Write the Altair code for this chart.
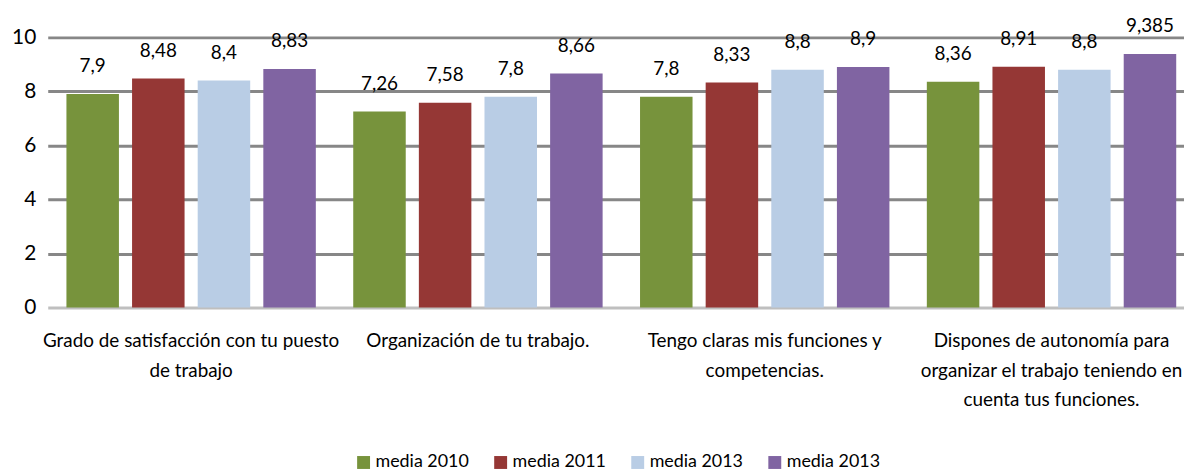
import altair as alt
import pandas as pd

categories = [
    "Grado de satisfacción con tu puesto\nde trabajo",
    "Organización de tu trabajo.",
    "Tengo claras mis funciones y\ncompetencias.",
    "Dispones de autonomía para\norganizar el trabajo teniendo en\ncuenta tus funciones.",
]
series = ["media 2010", "media 2011", "media 2013", "media 2013 "]
colors = ["#77933C", "#953735", "#B9CDE5", "#8064A2"]
media_2010 = [7.9, 7.26, 7.8, 8.36]
media_2011 = [8.48, 7.58, 8.33, 8.91]
media_2013a = [8.4, 7.8, 8.8, 8.8]
media_2013b = [8.83, 8.66, 8.9, 9.385]
y_ticks = [0, 2, 4, 6, 8, 10]

rows = []
for s, vals in zip(series, [media_2010, media_2011, media_2013a, media_2013b]):
    for c, v in zip(categories, vals):
        rows.append({"cat": c, "serie": s, "valor": v,
                     "etiqueta": ("%g" % v).replace(".", ",")})
df = pd.DataFrame(rows)

FONT = "Lato"

x = alt.X("cat:N", sort=categories, title=None,
          scale=alt.Scale(paddingInner=0, paddingOuter=0, range=[0, 1155]),
          axis=alt.Axis(labelAngle=0, labelExpr="split(datum.label, '\\n')",
                        labelFont=FONT, labelFontSize=19, labelColor="#000000",
                        labelLineHeight=30, labelPadding=24, ticks=False,
                        domain=False, labelBaseline="top", labelLimit=0))
xo = alt.XOffset("serie:N", sort=series,
                 scale=alt.Scale(paddingInner=0.2, paddingOuter=0.285))

base = alt.Chart(df).encode(x=x, xOffset=xo)

bars = base.mark_bar().encode(
    y=alt.Y("valor:Q", title=None,
            scale=alt.Scale(domain=[0, 10], nice=False),
            axis=alt.Axis(values=y_ticks, format="d", labelFont=FONT,
                          labelFontSize=21, labelColor="#000000",
                          labelPadding=12, ticks=False, domain=False,
                          gridWidth=3,
                          gridColor={"condition": {"test": "datum.value === 0",
                                                   "value": "#BFBFBF"},
                                     "value": "#878787"})),
    color=alt.Color("serie:N", sort=series,
                    scale=alt.Scale(domain=series, range=colors),
                    legend=alt.Legend(title=None, orient="none", direction="horizontal",
                                      legendX=309, legendY=419,
                                      symbolType="square", symbolSize=169,
                                      symbolStrokeWidth=0, symbolOpacity=1,
                                      labelFont=FONT, labelFontSize=18,
                                      labelColor="#000000", columnPadding=22,
                                      labelOffset=3, labelLimit=0)),
)

labels = base.mark_text(font=FONT, fontSize=19, baseline="middle", dy=-28,
                        color="#000000").encode(
    y=alt.Y("valor:Q"),
    text=alt.Text("etiqueta:N"),
)

chart = alt.layer(bars, labels).properties(
    width=1144, height=272,
    autosize=alt.AutoSizeParams(type="none"),
    padding={"left": 40, "top": 28, "right": 0, "bottom": 165},
).configure_view(stroke=None)

chart.save("out.html", embed_options={"renderer": "svg", "actions": False})
